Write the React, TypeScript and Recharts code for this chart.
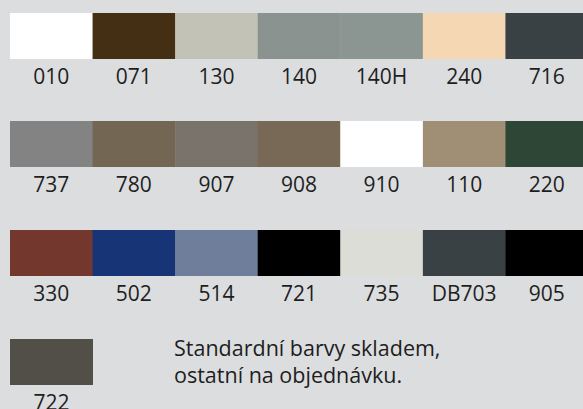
import React from 'react';
import { BarChart, Bar, XAxis, YAxis, Cell } from 'recharts';

const row1Codes = ['010', '071', '130', '140', '140H', '240', '716'];
const row1Colors = ['#ffffff', '#452f14', '#c2c3b6', '#8a9390', '#8b9592', '#f5d8b3', '#3a4144'];
const row2Codes = ['737', '780', '907', '908', '910', '110', '220'];
const row2Colors = ['#838383', '#736653', '#7a736c', '#776955', '#ffffff', '#a08e75', '#2e4635'];
const row3Codes = ['330', '502', '514', '721', '735', 'DB703', '905'];
const row3Colors = ['#74372e', '#163476', '#6e7e9b', '#000000', '#dcddd6', '#3a4144', '#000000'];
const row4Codes = ['722'];
const row4Colors = ['#514f48'];
const swatchValue = 1;
const noteLines = ['Standardní barvy skladem,', 'ostatní na objednávku.'];

const FONT = '"Open Sans", "Noto Sans", sans-serif';
const BG = '#dcdddf';

type RowProps = { codes: string[]; colors: string[]; top: number; width: number };

function SwatchRow({ codes, colors, top, width }: RowProps) {
  const data = codes.map((code, i) => ({ code, v: swatchValue, color: colors[i] }));
  return (
    <div style={{ position: 'absolute', left: 0, top }}>
      <BarChart
        width={width}
        height={86}
        data={data}
        margin={{ top: 0, right: 0, bottom: 0, left: 10 }}
        barCategoryGap={0}
        barGap={0}
      >
        <XAxis
          dataKey="code"
          axisLine={false}
          tickLine={false}
          height={40}
          tickMargin={4}
          interval={0}
          tick={{ fontSize: 21, fill: '#1e1e1e', fontFamily: FONT }}
        />
        <YAxis hide domain={[0, 1]} />
        <Bar dataKey="v" isAnimationActive={false}>
          {data.map((d, i) => (
            <Cell key={i} fill={d.color} />
          ))}
        </Bar>
      </BarChart>
    </div>
  );
}

export default function App() {
  return (
    <div
      style={{
        position: 'absolute',
        left: 0,
        top: 0,
        width: 583,
        height: 409,
        overflow: 'hidden',
        background: BG,
        fontFamily: FONT,
      }}
    >
      <SwatchRow codes={row1Codes} colors={row1Colors} top={13} width={588} />
      <SwatchRow codes={row2Codes} colors={row2Colors} top={121} width={588} />
      <SwatchRow codes={row3Codes} colors={row3Colors} top={230} width={588} />
      <SwatchRow codes={row4Codes} colors={row4Colors} top={339} width={93} />
      <div
        style={{
          position: 'absolute',
          left: 174,
          top: 334,
          fontSize: 21.5,
          lineHeight: '27px',
          color: '#1e1e1e',
          whiteSpace: 'nowrap',
        }}
      >
        {noteLines.map((l, i) => (
          <div key={i}>{l}</div>
        ))}
      </div>
    </div>
  );
}
